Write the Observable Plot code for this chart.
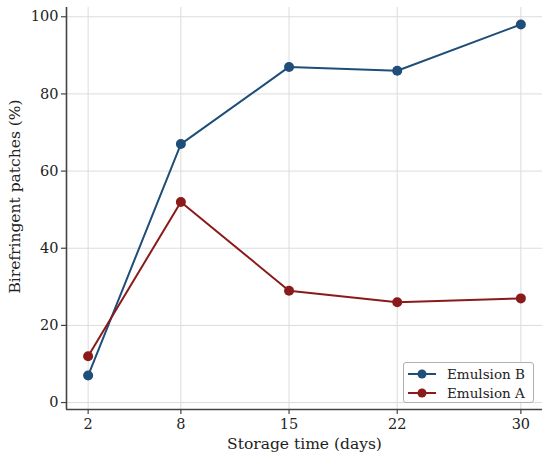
<!DOCTYPE html>
<html>
<head>
<meta charset="utf-8">
<script src="https://cdn.jsdelivr.net/npm/d3@7"></script>
<script src="https://cdn.jsdelivr.net/npm/@observablehq/plot@0.6"></script>
<style>
  body { margin: 0; background: #fff; }
  #wrap { position: relative; width: 550px; height: 460px; }
  #legend {
    position: absolute; left: 403px; top: 362px; width: 129px; height: 39px;
    border: 1px solid #b0b0b0; border-radius: 3px; background: rgba(255,255,255,0.85);
    font-family: "DejaVu Serif", "Liberation Serif", serif; font-size: 13.5px; color: #222;
  }
  .row { position: absolute; left: 3px; height: 18px; display: flex; align-items: center; white-space: nowrap; }
  .row svg { margin-right: 10px; }
</style>
</head>
<body>
<div id="wrap"><div id="legend"></div></div>
<script>
const days = [2, 8, 15, 22, 30];
const emulsionB = [7, 67, 87, 86, 98];
const emulsionA = [12, 52, 29, 26, 27];
const seriesNames = ["Emulsion B", "Emulsion A"];
const seriesColors = ["#1f4e79", "#8b1a1a"];
const yTicks = [0, 20, 40, 60, 80, 100];
const xLabel = "Storage time (days)";
const yLabel = "Birefringent patches (%)";
const xDomain = [0.6, 31.4];
const yDomain = [-1.8, 102.4];

const data = [];
days.forEach((d, i) => data.push({day: d, value: emulsionB[i], series: seriesNames[0]}));
days.forEach((d, i) => data.push({day: d, value: emulsionA[i], series: seriesNames[1]}));

const font = "'DejaVu Serif', 'Liberation Serif', serif";
const chart = Plot.plot({
  width: 550,
  height: 460,
  marginLeft: 66,
  marginTop: 7,
  marginRight: 8,
  marginBottom: 51,
  style: {fontFamily: font, fontSize: "14px", color: "#222", background: "#fff"},
  x: {domain: xDomain},
  y: {domain: yDomain},
  color: {domain: seriesNames, range: seriesColors},
  marks: [
    Plot.ruleX(days, {stroke: "#dcdcdc", strokeWidth: 1}),
    Plot.ruleY(yTicks, {stroke: "#dcdcdc", strokeWidth: 1}),
    Plot.ruleX([xDomain[0]], {stroke: "#444", strokeWidth: 1.6}),
    Plot.ruleY([yDomain[0]], {stroke: "#444", strokeWidth: 1.6}),
    Plot.axisX({ticks: days, tickSize: 5, tickPadding: 4, stroke: "#444", strokeWidth: 1.2,
      label: null, fontSize: 14.5, fontFamily: font}),
    Plot.axisY({ticks: yTicks, tickSize: 5, tickPadding: 3, stroke: "#444", strokeWidth: 1.2,
      label: null, fontSize: 14.5, fontFamily: font}),
    Plot.text([xLabel], {text: d => d, frameAnchor: "bottom", textAnchor: "middle", lineAnchor: "middle", dy: 35, fontSize: 15.5, fontFamily: font, fill: "#222"}),
    Plot.text([yLabel], {text: d => d, frameAnchor: "left", textAnchor: "middle", lineAnchor: "middle", rotate: -90, dx: -51, dy: -12, fontSize: 15.5, fontFamily: font, fill: "#222"}),
    Plot.line(data, {x: "day", y: "value", stroke: "series", strokeWidth: 2}),
    Plot.dot(data, {x: "day", y: "value", fill: "series", r: 5})
  ]
});
document.getElementById("wrap").prepend(chart);

const legend = document.getElementById("legend");
seriesNames.forEach((name, i) => {
  const row = document.createElement("div");
  row.className = "row";
  row.style.top = (2 + i * 18.5) + "px";
  row.innerHTML = `<svg width="30" height="12"><line x1="1" x2="29" y1="6" y2="6" stroke="${seriesColors[i]}" stroke-width="2"/><circle cx="15" cy="6" r="4.5" fill="${seriesColors[i]}"/></svg><span>${name}</span>`;
  legend.appendChild(row);
});
</script>
</body>
</html>
